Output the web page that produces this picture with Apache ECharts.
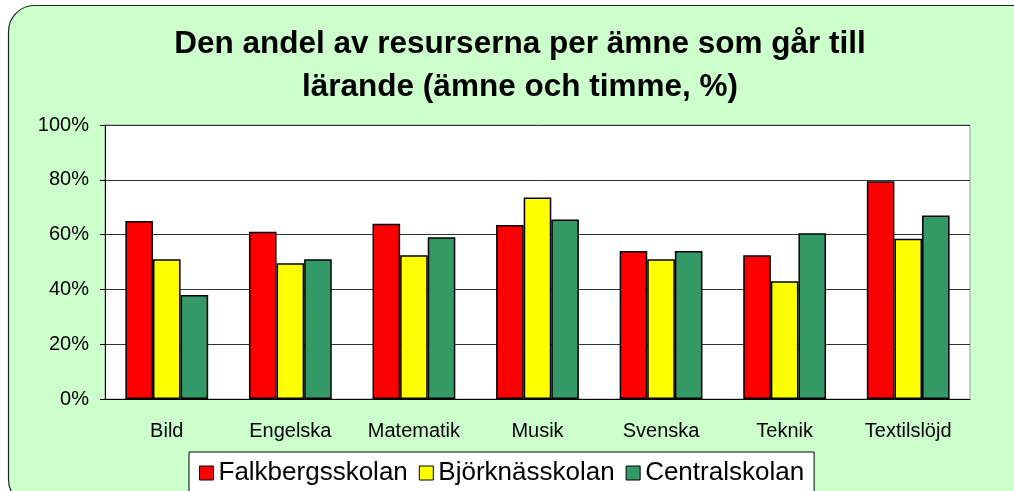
<!DOCTYPE html>
<html>
<head>
<meta charset="utf-8">
<script src="https://cdn.jsdelivr.net/npm/echarts@6/dist/echarts.min.js"></script>
<style>
  html, body { margin: 0; padding: 0; background: #fff; }
  #chart { width: 1014px; height: 491px; }
</style>
</head>
<body>
<div id="chart"></div>
<script>
// ämnen på x-axeln
const subjects = ["Bild", "Engelska", "Matematik", "Musik", "Svenska", "Teknik", "Textilslöjd"];
// andel i procent per skola
const falkbergsskolan = [65, 61, 64, 63.5, 54, 52.5, 79.5];
const bjorknasskolan = [51, 49.5, 52.5, 73.5, 51, 43, 58.5];
const centralskolan = [38, 51, 59, 65.5, 54, 60.5, 67];
const yTicks = [0, 20, 40, 60, 80, 100];

const chart = echarts.init(document.getElementById("chart"));

function barSeries(name, data, color) {
  return {
    name: name,
    type: "bar",
    data: data,
    barGap: "0%",
    barCategoryGap: "33%",
    itemStyle: { color: color, borderColor: "#000", borderWidth: 1.5 },
  };
}

const option = {
  animation: false,
  backgroundColor: "#fff",
  graphic: [
    {
      type: "rect",
      z: -10,
      shape: { x: 8.5, y: 5.5, width: 1030, height: 500, r: 26 },
      style: { fill: "#CCFFCC", stroke: "#222", lineWidth: 1.2 },
    },
  ],
  title: {
    text: "Den andel av resurserna per ämne som går till\nlärande (ämne och timme, %)",
    left: 520,
    top: 23,
    padding: 0,
    textAlign: "center",
    textStyle: {
      fontFamily: "Liberation Sans, Arial",
      fontWeight: "bold",
      fontSize: 31.5,
      lineHeight: 43,
      color: "#000",
    },
  },
  legend: {
    left: 189,
    top: 452,
    padding: [8, 10, 20, 10],
    itemWidth: 14,
    itemHeight: 14,
    itemGap: 11,
    backgroundColor: "#fff",
    borderColor: "#000",
    borderWidth: 1,
    icon: "rect",
    itemStyle: { borderColor: "#000", borderWidth: 1 },
    textStyle: { fontFamily: "Liberation Sans, Arial", fontSize: 26, color: "#000" },
    data: ["Falkbergsskolan", "Björknässkolan", "Centralskolan"],
  },
  grid: {
    left: 105,
    right: 44,
    top: 125,
    bottom: 92,
    show: true,
    backgroundColor: "#fff",
    borderColor: "#999",
    borderWidth: 1,
  },
  xAxis: {
    type: "category",
    data: subjects,
    axisLine: { lineStyle: { color: "#000", width: 1 } },
    axisTick: { length: 6, lineStyle: { color: "#000" } },
    axisLabel: {
      margin: 22,
      fontFamily: "Liberation Sans, Arial",
      fontSize: 20,
      color: "#000",
    },
  },
  yAxis: {
    type: "value",
    min: yTicks[0],
    max: yTicks[yTicks.length - 1],
    interval: 20,
    axisLine: { show: true, lineStyle: { color: "#000", width: 1 } },
    axisTick: { show: true, length: 5, lineStyle: { color: "#000" } },
    splitLine: { lineStyle: { color: "#333", width: 1 } },
    axisLabel: {
      margin: 16,
      formatter: "{value}%",
      fontFamily: "Liberation Sans, Arial",
      fontSize: 20,
      color: "#000",
    },
  },
  series: [
    barSeries("Falkbergsskolan", falkbergsskolan, "#FF0000"),
    barSeries("Björknässkolan", bjorknasskolan, "#FFFF00"),
    barSeries("Centralskolan", centralskolan, "#339966"),
  ],
};

chart.setOption(option);
</script>
</body>
</html>
